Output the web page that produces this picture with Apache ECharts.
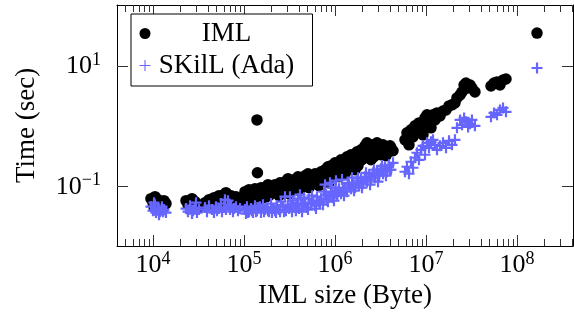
<!DOCTYPE html>
<html>
<head>
<meta charset="utf-8">
<script src="https://cdn.jsdelivr.net/npm/echarts@6/dist/echarts.min.js"></script>
<style>html,body{margin:0;padding:0;background:#fff;}#c{width:574px;height:323px;}</style>
</head>
<body>
<div id="c"></div>
<script>
// IML file sizes (Byte)
const sizes = [
  9500, 10000, 10260, 10520, 10790, 11350, 11640, 11940, 12560, 12880, 13210, 13890,
  23050, 24250, 25510, 26830, 27520, 28940, 29680, 30450, 32020,
  37280, 39220, 41250, 44500, 46800, 49200, 50500, 53100, 55900, 57300, 60300, 61800, 63400,
  66700, 68400, 70200, 72000, 75700, 77700, 81700, 85900, 90400,
  102600, 105200, 107900, 113500, 119400, 125600, 132100, 138900, 140500, 146200, 153800,
  161800, 170200, 179000, 188300, 198100, 208400, 219000, 231000, 243000, 255000, 268000,
  282000, 289000, 313000, 320000, 328000, 345000, 363000, 382000, 402000, 412000, 423000,
  445000, 468000, 492000, 518000, 545000, 573000, 603000, 634000, 667000, 702000, 738000,
  777000, 796000, 817000, 859000, 881000, 904000, 951000,
  1000000, 1026000, 1052000, 1107000, 1164000, 1194000, 1225000, 1288000, 1355000, 1425000,
  1500000, 1538000, 1578000, 1660000, 1746000, 1837000, 1932000, 2030000, 2140000, 2250000,
  2370000, 2490000, 2620000, 2750000, 2900000, 3050000, 3200000, 3370000, 3540000, 3720000,
  3920000, 4120000, 4340000,
  5880000, 6180000, 6500000, 6840000, 7200000, 7570000, 7960000, 8370000, 8810000, 9270000,
  9750000, 10260000, 10790000, 11350000, 11940000, 12560000, 13210000, 14260000, 15380000,
  16600000, 17900000, 19300000, 20800000, 21900000, 23700000, 24900000, 26200000, 27500000,
  29000000, 30500000, 32000000, 34500000,
  51800000, 55900000, 60300000, 65000000, 70200000, 75700000,
  166000000,
  110700, 122500, 135500, 150000, 166000, 183700, 203000, 225000, 249000, 275000,
  305000, 337000, 372000, 392000, 434000, 456000, 505000, 559000, 618000, 684000,
  757000, 837000, 927000, 975000, 1079000, 1256000, 1390000, 1618000, 1790000, 1980000,
  2190000, 2430000, 2680000, 2970000, 3280000, 3630000, 4020000
];
// IML time (sec)
const imlTime = [
  0.0634, 0.0544, 0.0467, 0.0684, 0.0504, 0.0610, 0.0450, 0.0544, 0.0485, 0.0433, 0.0587, 0.0524,
  0.0587, 0.0504, 0.0544, 0.0634, 0.0450, 0.0565, 0.0504, 0.0504, 0.0467,
  0.0544, 0.0485, 0.0610, 0.0504, 0.0658, 0.0565, 0.0467, 0.0710, 0.0610, 0.0485, 0.0738, 0.0634, 0.0796,
  0.0658, 0.0544, 0.0504, 0.0710, 0.0610, 0.0524, 0.0684, 0.0565, 0.0634,
  0.0827, 0.0658, 0.0524, 0.0892, 0.0710, 0.0587, 0.0927, 1.28, 0.170, 0.0610, 0.0963,
  0.0796, 0.0658, 0.0892, 0.0710, 0.100, 0.0796, 0.108, 0.0859, 0.0710, 0.104, 0.0827,
  0.121, 0.0963, 0.0766, 0.0963, 0.116, 0.0927, 0.131, 0.104, 0.0859, 0.112, 0.141,
  0.112, 0.152, 0.121, 0.0963, 0.146, 0.116, 0.164, 0.131, 0.104, 0.177, 0.141,
  0.191, 0.152, 0.177, 0.116, 0.206, 0.222, 0.170,
  0.249, 0.191, 0.191, 0.146, 0.279, 0.214, 0.214, 0.164, 0.313, 0.240,
  0.338, 0.259, 0.259, 0.191, 0.379, 0.302, 0.409, 0.325, 0.476, 0.533,
  0.379, 0.279, 0.494, 0.409, 0.533, 0.441, 0.338, 0.494, 0.409, 0.458,
  0.379, 0.441, 0.394,
  0.598, 0.781, 0.494, 0.875, 0.670, 1.02, 0.811, 1.14, 0.944, 0.724,
  1.38, 1.55, 1.19, 0.944, 1.55, 1.28, 1.67, 1.49, 1.80,
  1.87, 2.18, 2.27, 2.44, 2.96, 3.32, 3.72, 4.85, 5.24,
  4.33, 4.85, 4.33, 3.72,
  4.67, 5.24, 5.44, 4.85, 5.87, 6.10,
  35.1,
  0.0738, 0.0827, 0.0684, 0.0827, 0.0963, 0.108, 0.0892, 0.0963, 0.116, 0.100,
  0.136, 0.104, 0.116, 0.146, 0.0963, 0.126, 0.164, 0.131, 0.112, 0.152,
  0.126, 0.214, 0.158, 0.206, 0.231, 0.259, 0.191, 0.302, 0.222, 0.279,
  0.338, 0.441, 0.313, 0.379, 0.441, 0.325, 0.476
];
// SKilL (Ada) time (sec)
const adaTime = [
  0.0467, 0.0401, 0.0544, 0.0504, 0.0372, 0.0433, 0.0344, 0.0386, 0.0467, 0.0386, 0.0417, 0.0372,
  0.0433, 0.0386, 0.0485, 0.0358, 0.0401, 0.0450, 0.0544, 0.0372, 0.0417,
  0.0450, 0.0386, 0.0485, 0.0417, 0.0372, 0.0467, 0.0401, 0.0433, 0.0524, 0.0386, 0.0450, 0.0610, 0.0417,
  0.0587, 0.0504, 0.0417, 0.0485, 0.0386, 0.0433, 0.0467, 0.0401, 0.0433,
  0.0417, 0.0358, 0.0467, 0.0386, 0.0433, 0.0372, 0.0485, 0.0401, 0.0450, 0.0450, 0.0372,
  0.0504, 0.0417, 0.0450, 0.0386, 0.0524, 0.0433, 0.0401, 0.0485, 0.0417, 0.0565, 0.0467,
  0.0684, 0.0401, 0.0433, 0.0684, 0.0485, 0.0587, 0.0450, 0.0524, 0.0433, 0.0738, 0.0610,
  0.0485, 0.0544, 0.0450, 0.0634, 0.0524, 0.0587, 0.0485, 0.0684, 0.0565, 0.0634, 0.0504,
  0.108, 0.0738, 0.0610, 0.0684, 0.116, 0.0796, 0.0658,
  0.0859, 0.126, 0.0710, 0.0927, 0.0766, 0.131, 0.0892, 0.0963, 0.0827, 0.108,
  0.0927, 0.141, 0.116, 0.0963, 0.126, 0.104, 0.136, 0.112, 0.146, 0.121,
  0.158, 0.131, 0.170, 0.141, 0.184, 0.152, 0.199, 0.164, 0.214, 0.177,
  0.231, 0.191, 0.249,
  0.177, 0.214, 0.164, 0.259, 0.206, 0.302, 0.365, 0.279, 0.409, 0.476,
  0.338, 0.533, 0.441, 0.554, 0.598, 0.494, 0.409, 0.476, 0.533,
  0.441, 0.575, 0.494, 0.598, 0.944, 1.28, 1.06, 1.38, 1.19,
  0.98, 1.10, 1.28, 1.02,
  1.44, 1.67, 1.55, 1.87, 2.02, 1.74,
  9.27,
  0.0372, 0.0401, 0.0386, 0.0467, 0.0386, 0.0401, 0.0372, 0.0372, 0.0386, 0.0386,
  0.0504, 0.0386, 0.0401, 0.0634, 0.0386, 0.0658, 0.0417, 0.0710, 0.0433, 0.0524,
  0.0827, 0.0565, 0.0963, 0.0587, 0.0827, 0.0710, 0.116, 0.0859, 0.141, 0.0963,
  0.170, 0.108, 0.191, 0.121, 0.222, 0.152, 0.191
];
const seriesNames = ['IML', 'SKilL (Ada)'];
const xMajorTicks = [1e4, 1e5, 1e6, 1e7, 1e8];
const yMajorTicks = [0.1, 10];
const xTitle = 'IML size (Byte)';
const yTitle = 'Time (sec)';

const X_MIN = 4022, X_MAX = 4.125e8;
const Y_MIN = 0.0104, Y_MAX = 102.6;
const FONT = '"Liberation Serif", "DejaVu Serif", serif';

const xMinorTicks = [];
for (let d = 3; d <= 8; d++) {
  for (let k = 2; k <= 9; k++) {
    const v = k * Math.pow(10, d);
    if (v > X_MIN && v < X_MAX) xMinorTicks.push(v);
  }
}

const fmtPow = v => {
  const e = Math.round(Math.log10(v));
  return '{b|10}{s|' + (e < 0 ? '\u2212' + (-e) : String(e)) + '}';
};
const richPow = {
  b: { fontFamily: FONT, fontSize: 26, color: '#000', lineHeight: 30 },
  s: { fontFamily: FONT, fontSize: 18, color: '#000', lineHeight: 18, verticalAlign: 'top' }
};

const crossPath = 'path://M4,0H6V4H10V6H6V10H4V6H0V4H4Z';
const crossThin = 'path://M4.5,0H5.5V4.5H10V5.5H5.5V10H4.5V5.5H0V4.5H4.5Z';

function xAx(pos, ticks, len, labels, line) {
  return {
    type: 'log', logBase: 10, min: X_MIN, max: X_MAX, position: pos, gridIndex: 0,
    axisLine: { show: line, onZero: false, lineStyle: { color: '#000', width: 1 } },
    axisTick: { show: true, inside: true, length: len, customValues: ticks, lineStyle: { color: '#333', width: 1 } },
    axisLabel: labels ? { show: true, customValues: ticks, margin: 4, formatter: fmtPow, rich: richPow } : { show: false },
    splitLine: { show: false }, minorTick: { show: false }
  };
}
function yAx(pos, labels) {
  return {
    type: 'log', logBase: 10, min: Y_MIN, max: Y_MAX, position: pos, gridIndex: 0,
    axisLine: { show: true, onZero: false, lineStyle: { color: '#000', width: 1 } },
    axisTick: { show: true, inside: true, length: 11, customValues: yMajorTicks, lineStyle: { color: '#333', width: 1 } },
    axisLabel: labels ? { show: true, customValues: yMajorTicks, margin: 16, formatter: fmtPow, rich: richPow } : { show: false },
    splitLine: { show: false }
  };
}

const xAxes = [
  xAx('bottom', xMajorTicks, 11, true, true),
  xAx('bottom', xMinorTicks, 7, false, false),
  xAx('top', xMajorTicks, 11, false, true),
  xAx('top', xMinorTicks, 7, false, false)
];
Object.assign(xAxes[0], {
  name: xTitle, nameLocation: 'middle', nameGap: 35,
  nameTextStyle: { fontFamily: FONT, fontSize: 27, color: '#000' }
});
const yAxes = [yAx('left', true), yAx('right', false)];
Object.assign(yAxes[0], {
  name: yTitle, nameLocation: 'middle', nameGap: 77,
  nameTextStyle: { fontFamily: FONT, fontSize: 27, color: '#000' }
});

const chart = echarts.init(document.getElementById('c'), null, { renderer: 'canvas' });
chart.setOption({
  animation: false,
  backgroundColor: '#fff',
  grid: { left: 117, top: 5, width: 456, height: 241, containLabel: false },
  xAxis: xAxes,
  yAxis: yAxes,
  legend: {
    orient: 'vertical', left: 131, top: 14,
    padding: [6, 15, 7, 8.5],
    itemWidth: 11, itemHeight: 11, itemGap: 5,
    backgroundColor: '#fff', borderColor: '#000', borderWidth: 1, borderRadius: 0,
    data: [
      { name: seriesNames[0], icon: 'circle' },
      { name: seriesNames[1], icon: crossThin }
    ],
    formatter: n => '{t|' + n + '}',
    textStyle: {
      color: '#000',
      rich: { t: { fontFamily: FONT, fontSize: 27, color: '#000', width: 142, align: 'center', lineHeight: 30 } }
    },
    selectedMode: false
  },
  series: [
    {
      name: seriesNames[0], type: 'scatter', xAxisIndex: 0, yAxisIndex: 0,
      symbol: 'circle', symbolSize: 11.5,
      itemStyle: { color: '#000', opacity: 1 },
      data: sizes.map((s, i) => [s, imlTime[i]]),
      z: 2
    },
    {
      name: seriesNames[1], type: 'scatter', xAxisIndex: 0, yAxisIndex: 0,
      symbol: crossPath, symbolSize: 11,
      itemStyle: { color: '#6666ff', opacity: 1 },
      data: sizes.map((s, i) => [s, adaTime[i]]),
      z: 3
    }
  ]
});
</script>
</body>
</html>
